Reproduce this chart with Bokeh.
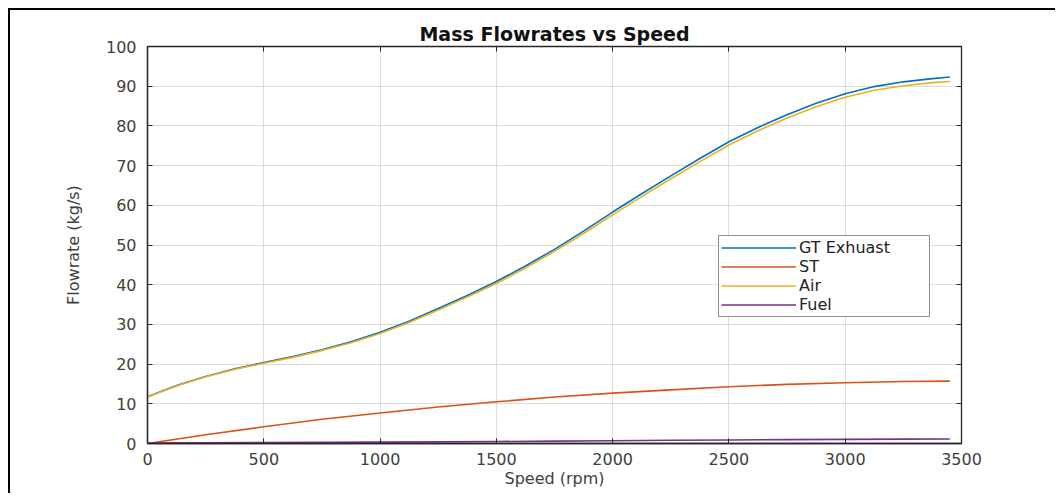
from bokeh.plotting import figure
from bokeh.models import (LinearAxis, Legend, LegendItem, FixedTicker, Range1d,
                          CustomJSTickFormatter)
from bokeh.embed import file_html
from bokeh.resources import INLINE

# ---- data ----
speed_fine = [0, 125, 250, 375, 500, 625, 750, 875, 1000, 1125, 1250, 1375, 1500, 1625,
              1750, 1875, 2000, 2125, 2250, 2375, 2500, 2625, 2750, 2875, 3000, 3125,
              3250, 3375, 3450]
gt_exhaust = [11.8, 14.6, 16.9, 18.8, 20.4, 21.9, 23.6, 25.6, 28.0, 30.8, 34.0, 37.3, 40.8,
              44.7, 48.9, 53.5, 58.3, 62.9, 67.4, 71.8, 76.0, 79.6, 82.8, 85.7, 88.1, 89.9,
              91.1, 91.9, 92.3]
air = [11.7, 14.5, 16.8, 18.7, 20.2, 21.7, 23.4, 25.4, 27.7, 30.5, 33.6, 36.9, 40.3, 44.2,
       48.4, 52.9, 57.6, 62.2, 66.7, 71.0, 75.2, 78.8, 82.0, 84.8, 87.2, 89.0, 90.1, 90.9,
       91.2]
speed_coarse = [0, 250, 500, 750, 1000, 1250, 1500, 1750, 2000, 2250, 2500, 2750, 3000,
                3250, 3450]
st = [0.0, 2.2, 4.2, 6.1, 7.7, 9.2, 10.5, 11.7, 12.7, 13.5, 14.3, 14.9, 15.3, 15.6, 15.7]
fuel = [0.1, 0.2, 0.25, 0.3, 0.35, 0.42, 0.5, 0.6, 0.7, 0.8, 0.9, 0.98, 1.05, 1.1, 1.12]

series_labels = ["GT Exhuast", "ST", "Air", "Fuel"]
x_ticks = [0, 500, 1000, 1500, 2000, 2500, 3000, 3500]
y_ticks = [0, 10, 20, 30, 40, 50, 60, 70, 80, 90, 100]

FONT = "DejaVu Sans"
AX = "#262626"
TICK_TXT = "#404040"

p = figure(width=1055, height=493, output_backend="svg", toolbar_location=None,
           x_range=Range1d(0, 3500), y_range=Range1d(0, 100),
           min_border_left=147, min_border_right=94, min_border_top=46,
           min_border_bottom=50, background_fill_color="white",
           border_fill_color=None, title="Mass Flowrates vs Speed")
# black frame line on the left and top, 8px in from the edge
p.styles = {"box-shadow": "inset 8px 8px 0 0 white, inset 10px 10px 0 0 black",
            "background-color": "white"}

p.title.align = "center"
p.title.text_font = FONT
p.title.text_font_size = "19px"
p.title.text_font_style = "bold"
p.title.text_color = "#111111"
p.title.standoff = 4

p.outline_line_color = AX
p.outline_line_width = 1.3

p.xaxis.ticker = FixedTicker(ticks=x_ticks)
p.yaxis.ticker = FixedTicker(ticks=y_ticks)
p.xgrid.ticker = FixedTicker(ticks=x_ticks)
p.ygrid.ticker = FixedTicker(ticks=y_ticks)
p.grid.grid_line_color = "#dcdcdc"
p.grid.grid_line_width = 1

for ax in [p.xaxis[0], p.yaxis[0]]:
    ax.axis_line_color = AX
    ax.axis_line_width = 1.3
    ax.major_tick_in = 5
    ax.major_tick_out = 0
    ax.major_tick_line_color = AX
    ax.minor_tick_line_color = None
    ax.major_label_text_font = FONT
    ax.major_label_text_font_size = "16px"
    ax.major_label_text_color = TICK_TXT
    ax.axis_label_text_font = FONT
    ax.axis_label_text_font_size = "16px"
    ax.axis_label_text_font_style = "normal"
    ax.axis_label_text_color = TICK_TXT

p.xaxis.axis_label = "Speed (rpm)"
p.xaxis.major_label_standoff = 9
p.xaxis.axis_label_standoff = 1
p.yaxis.axis_label = "Flowrate (kg/s)"
p.yaxis.major_label_standoff = 11
p.yaxis.axis_label_standoff = 20

blank = CustomJSTickFormatter(code="return ''")
top = LinearAxis(ticker=FixedTicker(ticks=x_ticks), formatter=blank,
                 major_tick_in=5, major_tick_out=0, minor_tick_line_color=None,
                 axis_line_color=AX, major_tick_line_color=AX, major_label_standoff=0)
right = LinearAxis(ticker=FixedTicker(ticks=y_ticks), formatter=blank,
                   major_tick_in=5, major_tick_out=0, minor_tick_line_color=None,
                   axis_line_color=AX, major_tick_line_color=AX, major_label_standoff=0)
p.add_layout(top, "above")
p.add_layout(right, "right")

colors = ["#0072BD", "#D95319", "#EDB120", "#7E2F8E"]
r_gt = p.line(speed_fine, gt_exhaust, line_color=colors[0], line_width=1.6)
r_st = p.line(speed_coarse, st, line_color=colors[1], line_width=1.6)
r_air = p.line(speed_fine, air, line_color=colors[2], line_width=1.6)
r_fuel = p.line(speed_coarse, fuel, line_color=colors[3], line_width=1.6)

legend = Legend(items=[LegendItem(label=lab, renderers=[r])
                       for lab, r in zip(series_labels, [r_gt, r_st, r_air, r_fuel])],
                location=(571, 126))
legend.label_text_font = FONT
legend.label_text_font_size = "16px"
legend.label_text_color = "#222222"
legend.glyph_width = 75
legend.glyph_height = 19
legend.label_height = 19
legend.label_width = 128
legend.label_standoff = 3
legend.spacing = 0
legend.padding = 2
legend.margin = 0
legend.border_line_color = AX
legend.border_line_width = 1.2
legend.background_fill_color = "white"
legend.background_fill_alpha = 1
p.add_layout(legend, "center")

open("out.html", "w").write(file_html(p, INLINE))
